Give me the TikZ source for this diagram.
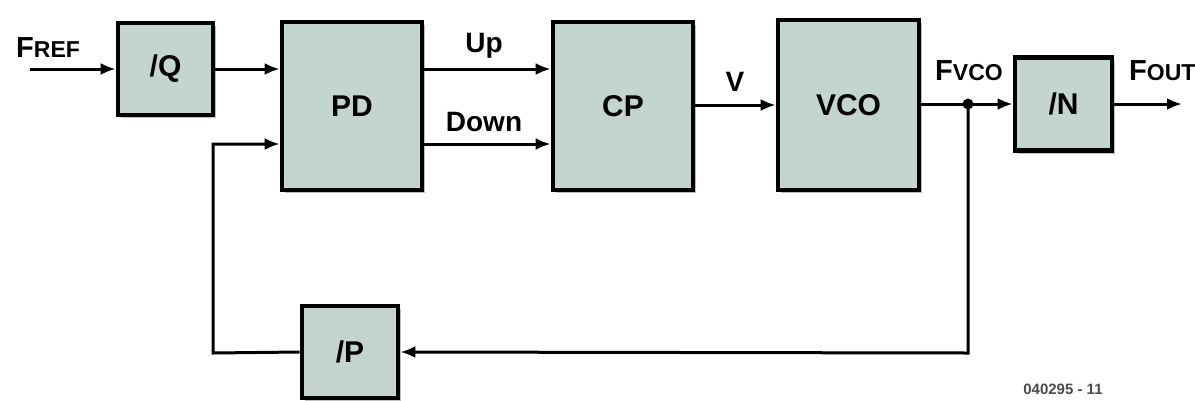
\documentclass[tikz,border=0pt]{standalone}
\usepackage{fontspec}
\setmainfont{Liberation Sans}
\usetikzlibrary{arrows.meta,shadows}
\definecolor{boxfill}{RGB}{195,212,209}
\tikzset{
  blk/.style={draw=black, line width=4.6pt, fill=boxfill, inner sep=0pt,
    font=\fontsize{30}{32}\selectfont\bfseries,
    drop shadow={shadow xshift=3pt, shadow yshift=-3pt, fill=black!25, opacity=1}},
  wire/.style={line width=3pt, draw=black},
  arr/.style={wire, -{Latex[length=15pt,width=12pt]}},
  lbl/.style={font=\fontsize{28}{30}\selectfont\bfseries, inner sep=0pt},
  bigF/.style={font=\fontsize{29}{31}\selectfont\bfseries, inner sep=0pt, anchor=base west}
}
\newcommand{\subcap}[1]{{\fontsize{23}{25}\selectfont #1}}
\begin{document}
\begin{tikzpicture}[x=1pt,y=-1pt]
\useasboundingbox (0,0) rectangle (1195,400);
% blocks
\node[blk, minimum width=95pt, minimum height=92pt] (Q) at (165.5,69) {/Q};
\node[blk, minimum width=140pt, minimum height=168pt] (PD) at (352,106) {PD};
\node[blk, minimum width=140pt, minimum height=168pt] (CP) at (623,106) {CP};
\node[blk, minimum width=141pt, minimum height=170pt] (VCO) at (848.5,105) {VCO};
\node[blk, minimum width=97pt, minimum height=93pt] (N) at (1063.5,104) {/N};
\node[blk, minimum width=96pt, minimum height=92pt] (P) at (350,352) {/P};
% coordinates
\coordinate (fin) at (30,69);
\coordinate (yup) at (0,69);
\coordinate (ydn) at (0,144);
\coordinate (yv) at (0,105);
\coordinate (dot) at (968,104);
\coordinate (fb1) at (968,353);
\coordinate (fb2) at (213,353);
\coordinate (fb3) at (213,144);
\coordinate (fout) at (1182,104);
% connectors
\draw[arr] (fin) -- (Q.west);
\draw[arr] (Q.east) -- (Q.east -| PD.west);
\draw[arr] (PD.east |- yup) -- (CP.west |- yup);
\draw[arr] (PD.east |- ydn) -- (CP.west |- ydn);
\draw[arr] (CP.east |- yv) -- (VCO.west |- yv);
\draw[arr] (VCO.east |- dot) -- (N.west);
\draw[arr] (N.east) -- (fout);
\draw[arr] (dot) -- (fb1) -- (P.east);
\draw[arr] (P.west) -- (fb2) -- (fb3) -- (PD.west |- fb3);
\fill (dot) circle (5.5pt);
% labels
\node[bigF] (fref) at (16,57) {F\subcap{REF}};
\node[bigF] (fvco) at (935,80) {F\subcap{VCO}};
\node[bigF] (foutl) at (1129,80) {F\subcap{OUT}};
\node[lbl] (up) at (484,46) {Up};
\node[lbl] (down) at (484,122) {Down};
\node[lbl] (v) at (735,82) {V};
\node[font=\fontsize{15}{17}\selectfont\bfseries, text=black!70, inner sep=0pt] (code) at (1063,389) {040295 - 11};
\end{tikzpicture}
\end{document}
